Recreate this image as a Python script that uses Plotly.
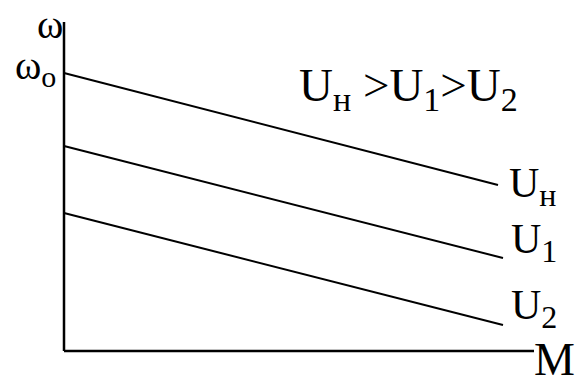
import plotly.graph_objects as go

# Mechanical characteristics ω(M) of a DC motor at different armature voltages
names = ["н", "1", "2"]
m_start = [0.0, 0.0, 0.0]
m_end = [4.34, 4.39, 4.39]
omega_start = [2.78, 2.05, 1.38]
omega_end = [1.66, 0.93, 0.26]

# axis extents (in the same M / ω units)
m_axis_max = 4.70
omega_axis_max = 3.29

W, H = 581, 381
x_range = [-0.64, 5.17]
y_range = [-0.30, 3.51]

FONT = "Liberation Serif"


def u_sub(idx, size):
    return f'U<sub><span style="font-size:{size}px">{idx}</span></sub>'


fig = go.Figure()

# axes drawn as plain lines from the origin
fig.add_trace(go.Scatter(x=[0, m_axis_max], y=[0, 0], mode="lines",
                         line=dict(color="black", width=2.5), hoverinfo="skip"))
fig.add_trace(go.Scatter(x=[0, 0], y=[0, omega_axis_max], mode="lines",
                         line=dict(color="black", width=2.5), hoverinfo="skip"))

for idx, m0, m1, w0, w1 in zip(names, m_start, m_end, omega_start, omega_end):
    fig.add_trace(go.Scatter(x=[m0, m1], y=[w0, w1], mode="lines", name="U" + idx,
                             line=dict(color="black", width=2), hoverinfo="skip"))


def px(xp):
    return xp / W


def py(yp):
    return 1 - yp / H


ann = []
# curve labels at the right-hand ends
label_pos = [(507, 186), (509, 242), (509, 308)]
for idx, (xp, yp) in zip(names, label_pos):
    ann.append(dict(x=px(xp), y=py(yp), xref="paper", yref="paper",
                    text=u_sub(idx, 32),
                    showarrow=False, xanchor="left", yanchor="middle",
                    font=dict(family=FONT, size=42, color="black")))

title = u_sub("н", 34) + " &gt;" + u_sub("1", 34) + "&gt;" + u_sub("2", 34)
ann.append(dict(x=px(297), y=py(89),
                xref="paper", yref="paper", text=title,
                showarrow=False, xanchor="left", yanchor="middle",
                font=dict(family=FONT, size=47, color="black")))

ann.append(dict(x=px(532), y=py(359), xref="paper", yref="paper", text="M",
                showarrow=False, xanchor="left", yanchor="middle",
                font=dict(family=FONT, size=46, color="black")))

ann.append(dict(x=px(35), y=py(24), xref="paper", yref="paper", text="ω",
                showarrow=False, xanchor="left", yanchor="middle",
                font=dict(family=FONT, size=40, color="black")))

ann.append(dict(x=px(13), y=py(68), xref="paper", yref="paper",
                text='ω<sub><span style="font-size:30px">o</span></sub>',
                showarrow=False, xanchor="left", yanchor="middle",
                font=dict(family=FONT, size=40, color="black")))

fig.update_layout(
    width=W, height=H,
    margin=dict(l=0, r=0, t=0, b=0),
    paper_bgcolor="white", plot_bgcolor="white",
    showlegend=False,
    font=dict(family=FONT),
    xaxis=dict(range=x_range, visible=False, fixedrange=True),
    yaxis=dict(range=y_range, visible=False, fixedrange=True),
    annotations=ann,
)

fig.write_html("out.html")
